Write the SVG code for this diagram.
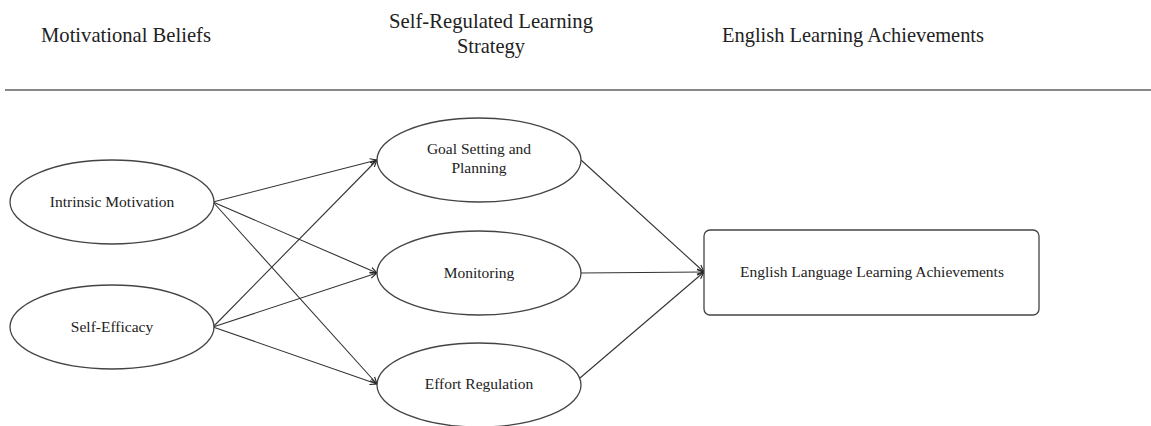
<svg xmlns="http://www.w3.org/2000/svg" width="1151" height="426" viewBox="0 0 1151 426">
  <style>
    .hdr { font-family: "Liberation Serif", "Times New Roman", serif; font-size: 21px; fill: #222; text-anchor: middle; }
    .lbl { font-family: "Liberation Serif", "Times New Roman", serif; font-size: 15.5px; fill: #222; text-anchor: middle; }
    .shape { fill: #fff; stroke: #444; stroke-width: 1.3; }
    .edge { stroke: #333; stroke-width: 1.1; fill: none; marker-end: url(#arrow); }
  </style>
  <defs>
    <marker id="arrow" markerWidth="8" markerHeight="8" refX="7" refY="4" orient="auto" markerUnits="userSpaceOnUse">
      <path d="M0,1 L7,4 L0,7" fill="none" stroke="#222" stroke-width="1.1"/>
    </marker>
  </defs>
  <rect width="1151" height="426" fill="#fff"/>

  <!-- column headings (condensed serif) -->
  <g id="headings">
    <text class="hdr" x="126" y="42" textLength="170" lengthAdjust="spacingAndGlyphs">Motivational Beliefs</text>
    <text class="hdr" x="491" y="28" textLength="204" lengthAdjust="spacingAndGlyphs">Self-Regulated Learning</text>
    <text class="hdr" x="491" y="53" textLength="68" lengthAdjust="spacingAndGlyphs">Strategy</text>
    <text class="hdr" x="853" y="42" textLength="262" lengthAdjust="spacingAndGlyphs">English Learning Achievements</text>
  </g>
  <line x1="5" y1="90" x2="1151" y2="90" stroke="#888" stroke-width="2"/>

  <!-- connectors -->
  <g id="connectors">
    <line class="edge" x1="213" y1="202" x2="377" y2="160"/>
    <line class="edge" x1="213" y1="202" x2="377" y2="273"/>
    <line class="edge" x1="213" y1="202" x2="377" y2="384"/>
    <line class="edge" x1="213" y1="327" x2="377" y2="160"/>
    <line class="edge" x1="213" y1="327" x2="377" y2="273"/>
    <line class="edge" x1="213" y1="327" x2="377" y2="384"/>
    <line class="edge" x1="581" y1="160" x2="704" y2="272"/>
    <line class="edge" x1="580" y1="273" x2="704" y2="272"/>
    <line class="edge" x1="580" y1="378" x2="704" y2="272"/>
  </g>

  <!-- motivational beliefs -->
  <g id="intrinsic-motivation">
    <ellipse class="shape" cx="112" cy="202" rx="102" ry="42"/>
    <text class="lbl" x="112" y="207">Intrinsic Motivation</text>
  </g>
  <g id="self-efficacy">
    <ellipse class="shape" cx="112" cy="327" rx="102" ry="42"/>
    <text class="lbl" x="112" y="332">Self-Efficacy</text>
  </g>

  <!-- self-regulated learning strategies -->
  <g id="goal-setting">
    <ellipse class="shape" cx="479" cy="160" rx="102" ry="42"/>
    <text class="lbl" x="479" y="154">Goal Setting and</text>
    <text class="lbl" x="479" y="173">Planning</text>
  </g>
  <g id="monitoring">
    <ellipse class="shape" cx="479" cy="273" rx="102" ry="42"/>
    <text class="lbl" x="479" y="278">Monitoring</text>
  </g>
  <g id="effort-regulation">
    <ellipse class="shape" cx="479" cy="385" rx="102" ry="42"/>
    <text class="lbl" x="479" y="389">Effort Regulation</text>
  </g>

  <!-- outcome -->
  <g id="achievements">
    <rect class="shape" x="704" y="230" width="335" height="85" rx="6"/>
    <text class="lbl" x="872" y="277">English Language Learning Achievements</text>
  </g>
</svg>
